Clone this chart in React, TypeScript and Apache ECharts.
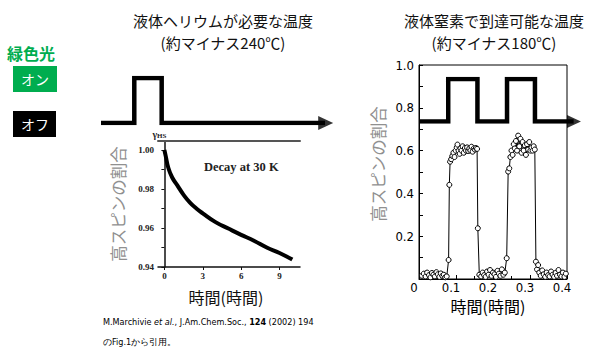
import React, { useEffect, useRef } from 'react';
import * as echarts from 'echarts';

// Left panel: decay of the high-spin fraction at 30 K (hours)
const decayHours = [0, 0.1, 0.3, 0.6, 1.0, 1.5, 2, 2.5, 3, 4, 5, 6, 7, 8, 9, 10];
const decayFraction = [1.0, 0.997, 0.991, 0.986, 0.982, 0.977, 0.973, 0.97, 0.9675, 0.963, 0.9597, 0.9565, 0.9535, 0.95, 0.9472, 0.9438];
const decayYTicks = [0.94, 0.96, 0.98, 1.0];
const decayYMinor = [0.94, 0.95, 0.96, 0.97, 0.98, 0.99, 1.0];
const decayXTicks = [0, 3, 6, 9];

// Right panel: switching with light on/off (hours)
const switchTime = [
  0.008, 0.013, 0.018, 0.022, 0.027, 0.031, 0.035, 0.039, 0.043, 0.047, 0.051, 0.055, 0.059, 0.063, 0.067, 0.071, 0.075,
  0.08, 0.082, 0.084, 0.087, 0.09, 0.093, 0.096, 0.099, 0.102, 0.104, 0.107, 0.11, 0.112, 0.115, 0.118, 0.121, 0.124, 0.127, 0.13, 0.133, 0.136, 0.139, 0.142, 0.145, 0.148, 0.151, 0.154, 0.157,
  0.159, 0.163,
  0.168, 0.172, 0.176, 0.18, 0.184, 0.188, 0.192, 0.196, 0.2, 0.204, 0.208, 0.212, 0.216, 0.22, 0.224, 0.228, 0.232,
  0.237, 0.241, 0.244, 0.247, 0.25, 0.253, 0.256, 0.259, 0.262, 0.265, 0.268, 0.271, 0.274, 0.277, 0.28, 0.283, 0.286, 0.289, 0.292, 0.295, 0.298, 0.301, 0.304, 0.307, 0.31, 0.313,
  0.316, 0.319, 0.322, 0.325, 0.329, 0.333, 0.337, 0.341, 0.345, 0.349, 0.353, 0.357, 0.361, 0.365, 0.369, 0.373, 0.377, 0.381, 0.385, 0.389, 0.393, 0.397,
];
const switchFraction = [
  0.015, 0.025, 0.012, 0.03, 0.018, 0.008, 0.028, 0.02, 0.012, 0.032, 0.022, 0.01, 0.026, 0.015, 0.02, 0.008, 0.012,
  0.089, 0.44, 0.548, 0.56, 0.575, 0.59, 0.57, 0.6, 0.615, 0.628, 0.6, 0.585, 0.61, 0.6, 0.62, 0.59, 0.612, 0.6, 0.615, 0.598, 0.61, 0.6, 0.618, 0.595, 0.61, 0.605, 0.612, 0.608,
  0.237, 0.02,
  0.012, 0.03, 0.018, 0.01, 0.035, 0.02, 0.042, 0.015, 0.03, 0.022, 0.01, 0.038, 0.025, 0.015, 0.045, 0.02, 0.03,
  0.097, 0.502, 0.517, 0.57, 0.6, 0.58, 0.63, 0.61, 0.645, 0.6, 0.67, 0.62, 0.655, 0.59, 0.64, 0.6, 0.625, 0.58, 0.63, 0.605, 0.64, 0.6, 0.615, 0.6, 0.62, 0.605,
  0.081, 0.045, 0.065, 0.03, 0.015, 0.04, 0.022, 0.01, 0.03, 0.018, 0.012, 0.035, 0.02, 0.01, 0.028, 0.015, 0.042, 0.02, 0.012, 0.03, 0.01, 0.025,
];
const switchYLabels = [0.2, 0.4, 0.6, 0.8, 1.0];

// Light signal (0 = off, 1 = on)
const leftSignalTime = [-5, -2.4, -2.4, -0.26, -0.26, 12.5];
const leftSignalState = [0, 0, 1, 1, 0, 0];
const leftArrowTime = 12.55;
const rightSignalTime = [0, 0.079, 0.079, 0.158, 0.158, 0.238, 0.238, 0.3135, 0.3135, 0.418];
const rightSignalState = [0, 0, 1, 1, 0, 0, 1, 1, 0, 0];
const rightArrowTime = 0.419;

const zip = (a: number[], b: number[]) => a.map((v, i) => [v, b[i]]);

const serif = "'Liberation Serif', 'Times New Roman', serif";
const cjk = "'Noto Sans CJK JP', 'Noto Sans', sans-serif";
const narrow = "'DejaVu Sans Condensed', 'Liberation Sans Narrow', 'DejaVu Sans', sans-serif";
const green = '#00ad4f';

export default function App() {
  const ref = useRef<HTMLDivElement>(null);
  useEffect(() => {
    if (!ref.current) return;
    const chart = echarts.init(ref.current, undefined, { renderer: 'svg' });
    const option: any = {
      animation: false,
      backgroundColor: '#ffffff',
      title: [
        {
          text: '液体ヘリウムが必要な温度\n(約マイナス240℃)',
          left: 218, top: 4, textAlign: 'center',
          textStyle: { fontFamily: cjk, fontSize: 15, fontWeight: 'normal', color: '#111', lineHeight: 22 },
        },
        {
          text: '液体窒素で到達可能な温度\n(約マイナス180℃)',
          left: 489, top: 4, textAlign: 'center',
          textStyle: { fontFamily: cjk, fontSize: 15, fontWeight: 'normal', color: '#111', lineHeight: 22 },
        },
      ],
      grid: [
        { left: 158, top: 141, width: 142, height: 126 },
        { left: 419, top: 65, width: 148, height: 214, show: true, borderColor: '#000', borderWidth: 1, backgroundColor: 'transparent' },
        { left: 101, top: 78, width: 233, height: 45 },
        { left: 419, top: 79, width: 162, height: 42.5 },
      ],
      xAxis: [
        {
          type: 'value', gridIndex: 0, min: -0.5, max: 10.6,
          axisLine: { show: true, lineStyle: { color: '#111', width: 1.5 } },
          axisTick: { show: true, length: 3, customValues: decayXTicks, lineStyle: { color: '#111' } },
          axisLabel: { customValues: decayXTicks, fontFamily: serif, fontWeight: 'bold', fontSize: 9, color: '#222', margin: 4 },
          splitLine: { show: false },
          name: '時間(時間)', nameLocation: 'middle', nameGap: 22, nameMoveOverlap: false,
          nameTextStyle: { fontFamily: cjk, fontSize: 16, color: '#111', padding: [0, 6, 0, 0] },
        },
        {
          type: 'value', gridIndex: 0, min: -0.5, max: 10.6, position: 'top',
          axisLine: { show: true, lineStyle: { color: '#555', width: 2 } },
          axisTick: { show: false }, axisLabel: { show: false }, splitLine: { show: false },
        },
        {
          type: 'value', gridIndex: 1, min: 0, max: 0.4, interval: 0.1,
          axisLine: { show: true, lineStyle: { color: '#000', width: 1 } },
          axisTick: { show: true, inside: true, length: 4, lineStyle: { color: '#000' } },
          minorTick: { show: true, splitNumber: 2, length: 3, lineStyle: { color: '#000' } },
          axisLabel: {
            fontFamily: narrow, fontSize: 13, lineHeight: 13, color: '#000', margin: 2, padding: [0, 10, 0, 0],
            formatter: (v: number) => (v === 0 ? '0' : v.toFixed(1)),
          },
          splitLine: { show: false },
          name: '時間(時間)', nameLocation: 'middle', nameGap: 19, nameMoveOverlap: false,
          nameTextStyle: { fontFamily: cjk, fontSize: 16, lineHeight: 16, color: '#000', padding: [0, 10, 0, 0] },
        },
        { type: 'value', gridIndex: 2, min: -5, max: 13.2, show: false },
        { type: 'value', gridIndex: 3, min: 0, max: 0.438, show: false },
      ],
      yAxis: [
        {
          type: 'value', gridIndex: 0, min: 0.94, max: 1.0046,
          axisLine: { show: true, lineStyle: { color: '#111', width: 1.5 } },
          axisTick: { show: true, length: 3, customValues: decayYMinor, lineStyle: { color: '#111' } },
          axisLabel: {
            customValues: decayYTicks, fontFamily: serif, fontWeight: 'bold', fontSize: 9, color: '#222', margin: 4,
            formatter: (v: number) => v.toFixed(2),
          },
          splitLine: { show: false },
          name: '高スピンの割合', nameLocation: 'middle', nameRotate: 90, nameGap: 32, nameMoveOverlap: false,
          nameTextStyle: { fontFamily: cjk, fontSize: 16.5, color: '#909090' },
        },
        {
          type: 'value', gridIndex: 0, min: 0.94, max: 1.0046,
          axisLine: { show: false }, axisTick: { show: false }, axisLabel: { show: false }, splitLine: { show: false },
          name: '{g|γ}{s|HS}', nameLocation: 'end', nameGap: 2,
          nameTextStyle: {
            align: 'center', padding: [0, 10, 0, 0],
            rich: {
              g: { fontFamily: serif, fontSize: 10, fontWeight: 'bold', color: '#222' },
              s: { fontFamily: serif, fontSize: 7, fontWeight: 'bold', color: '#222', verticalAlign: 'bottom' },
            },
          },
        },
        {
          type: 'value', gridIndex: 1, min: 0, max: 1, interval: 0.1,
          axisLine: { show: true, lineStyle: { color: '#000', width: 1 } },
          axisTick: { show: true, inside: true, length: 4, lineStyle: { color: '#000' } },
          axisLabel: {
            customValues: switchYLabels, fontFamily: narrow, fontSize: 13, color: '#000', margin: 5,
            formatter: (v: number) => v.toFixed(1),
          },
          splitLine: { show: false },
          name: '高スピンの割合', nameLocation: 'middle', nameRotate: 90, nameGap: 33, nameMoveOverlap: false,
          nameTextStyle: { fontFamily: cjk, fontSize: 16.5, color: '#909090', padding: [0, 0, 0, 16] },
        },
        { type: 'value', gridIndex: 2, min: 0, max: 1, show: false },
        { type: 'value', gridIndex: 3, min: 0, max: 1, show: false },
      ],
      series: [
        {
          type: 'line', xAxisIndex: 0, yAxisIndex: 0, data: zip(decayHours, decayFraction),
          smooth: true, showSymbol: false, lineStyle: { color: '#000', width: 4 },
        },
        {
          type: 'line', xAxisIndex: 2, yAxisIndex: 2, data: zip(switchTime, switchFraction),
          symbol: 'circle', symbolSize: 5, showSymbol: true,
          itemStyle: { color: '#fff', borderColor: '#000', borderWidth: 1 },
          lineStyle: { color: '#000', width: 1 },
        },
        {
          type: 'line', xAxisIndex: 3, yAxisIndex: 3, data: zip(leftSignalTime, leftSignalState),
          showSymbol: false, lineStyle: { color: '#000', width: 4.5, join: 'miter', cap: 'butt' },
        },
        {
          type: 'scatter', xAxisIndex: 3, yAxisIndex: 3, data: [[leftArrowTime, 0]],
          symbol: 'triangle', symbolRotate: -90, symbolSize: [14, 15], itemStyle: { color: '#000' },
        },
        {
          type: 'line', xAxisIndex: 4, yAxisIndex: 4, data: zip(rightSignalTime, rightSignalState),
          showSymbol: false, lineStyle: { color: '#000', width: 4.5, join: 'miter', cap: 'butt' },
        },
        {
          type: 'scatter', xAxisIndex: 4, yAxisIndex: 4, data: [[rightArrowTime, 0]],
          symbol: 'triangle', symbolRotate: -90, symbolSize: [13, 14], itemStyle: { color: '#000' },
        },
      ],
      graphic: [
        {
          type: 'text', left: 7, top: 45,
          style: { text: '緑色光', fontFamily: cjk, fontSize: 16, fontWeight: 'bold', fill: green },
        },
        {
          type: 'group', left: 13, top: 66,
          children: [
            { type: 'rect', shape: { x: 0, y: 0, width: 44, height: 26 }, style: { fill: green } },
            { type: 'text', x: 22, y: 13, style: { text: 'オン', fontFamily: cjk, fontSize: 14, fill: '#fff', align: 'center', verticalAlign: 'middle' } },
          ],
        },
        {
          type: 'group', left: 13, top: 111,
          children: [
            { type: 'rect', shape: { x: 0, y: 0, width: 43, height: 26 }, style: { fill: '#000' } },
            { type: 'text', x: 22, y: 13, style: { text: 'オフ', fontFamily: cjk, fontSize: 14, fill: '#fff', align: 'center', verticalAlign: 'middle' } },
          ],
        },
        {
          type: 'text', left: 204, top: 160,
          style: { text: 'Decay at 30 K', fontFamily: serif, fontSize: 12.5, fontWeight: 'bold', fill: '#222' },
        },
        {
          type: 'text', left: 103, top: 317,
          style: {
            text: '{n|M.Marchivie }{i|et al.}{n|, J.Am.Chem.Soc., }{b|124}{n| (2002) 194}',
            rich: {
              n: { fontFamily: narrow, fontSize: 9, fill: '#000' },
              i: { fontFamily: narrow, fontSize: 9, fontStyle: 'italic', fill: '#000' },
              b: { fontFamily: narrow, fontSize: 9, fontWeight: 'bold', fill: '#000' },
            },
          },
        },
        {
          type: 'text', left: 103, top: 337,
          style: { text: 'のFig.1から引用。', fontFamily: narrow, fontSize: 9, fill: '#000' },
        },
      ],
    };
    chart.setOption(option);
    return () => chart.dispose();
  }, []);
  return <div ref={ref} style={{ position: 'fixed', left: 0, top: 0, width: 594, height: 354 }} />;
}
